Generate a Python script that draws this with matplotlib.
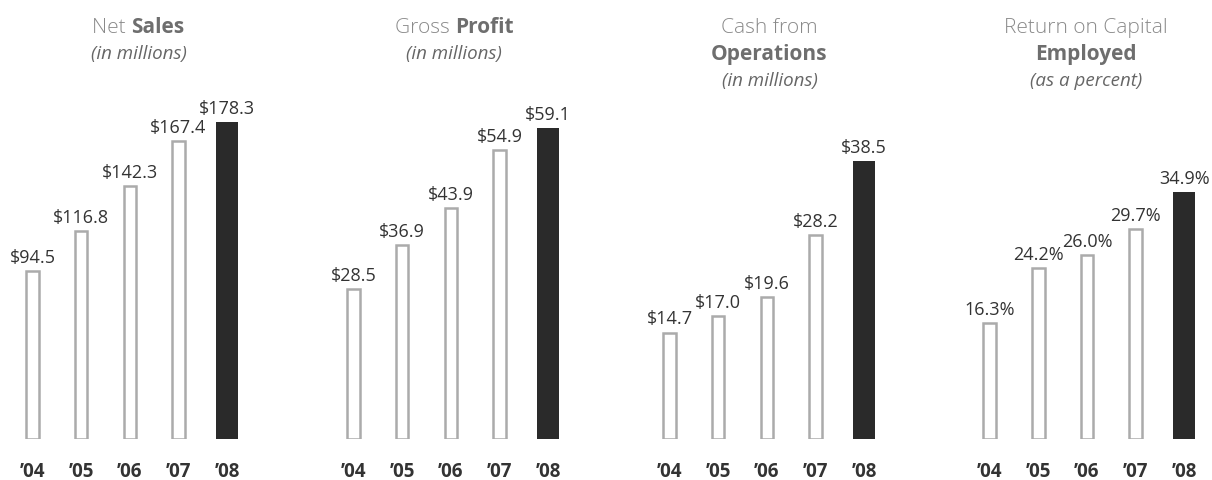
import matplotlib
matplotlib.use("Agg")
import matplotlib.pyplot as plt
from matplotlib import rc

rc('font', **{'family': ['Open Sans', 'DejaVu Sans']})

years = ["\u201904", "\u201905", "\u201906", "\u201907", "\u201908"]

net_sales = [94.5, 116.8, 142.3, 167.4, 178.3]
gross_profit = [28.5, 36.9, 43.9, 54.9, 59.1]
cash_ops = [14.7, 17.0, 19.6, 28.2, 38.5]
roce = [16.3, 24.2, 26.0, 29.7, 34.9]

# (values, label format, title lines [(light, bold)], subtitle)
panels = [
    (net_sales, "${:.1f}", [("Net ", "Sales")], "(in millions)"),
    (gross_profit, "${:.1f}", [("Gross ", "Profit")], "(in millions)"),
    (cash_ops, "${:.1f}", [("Cash from", ""), ("", "Operations")], "(in millions)"),
    (roce, "{:.1f}%", [("Return on Capital", ""), ("", "Employed")], "(as a percent)"),
]

# layout in pixels
W, H = 1212, 480
first_center = [32.5, 353.5, 669.5, 989.6]
title_center = [138.5, 454, 769.5, 1086]
spacing = 48.65
base_y = 438.5
top_px = [122, 128, 161, 192]  # top of the last bar

OUTLINE = "#ababab"
DARK = "#2a2a2a"
TXT = "#333333"
LIGHT = "#8a8a8a"
BOLD = "#6e6e6e"
ITAL = "#666666"

fig = plt.figure(figsize=(W / 100, H / 100), dpi=100)
renderer = fig.canvas.get_renderer()


def mixed_line(xc, yb, light, bold):
    size = 15
    t1 = fig.text(0, 0, light, fontsize=size, color=LIGHT, fontweight='light',
                  va='baseline', ha='left')
    t2 = fig.text(0, 0, bold, fontsize=size, color=BOLD, fontweight='bold',
                  va='baseline', ha='left')
    w1 = t1.get_window_extent(renderer).width if light else 0
    w2 = t2.get_window_extent(renderer).width if bold else 0
    x0 = xc - (w1 + w2) / 2
    t1.set_position((x0 / W, 1 - yb / H))
    t2.set_position(((x0 + w1) / W, 1 - yb / H))


for p, (vals, fmt, lines, sub) in enumerate(panels):
    left = first_center[p] - 0.6 * spacing
    ax = fig.add_axes([left / W, (H - base_y) / H, 5.2 * spacing / W, base_y / H])
    scale = (base_y - top_px[p]) / vals[-1]
    ax.set_xlim(-0.6, 4.6)
    ax.set_ylim(0, base_y / scale)
    ax.axis('off')

    xs = list(range(len(vals)))
    ax.bar(xs[:-1], vals[:-1], width=0.257, facecolor='white', edgecolor=OUTLINE,
           linewidth=1.8)
    ax.bar(xs[-1], vals[-1], width=0.452, color=DARK, linewidth=0)

    for i, v in enumerate(vals):
        ax.annotate(fmt.format(v), (i, v), xytext=(0, 5.8), textcoords='offset points',
                    ha='center', va='baseline', fontsize=13, color=TXT,
                    annotation_clip=False)
        ax.annotate(years[i], (i, 0), xytext=(0, -27.7), textcoords='offset points',
                    ha='center', va='baseline', fontsize=13.5, fontweight='bold',
                    color=TXT, annotation_clip=False)

    yb = 33
    for light, bold in lines:
        mixed_line(title_center[p], yb, light, bold)
        yb += 27
    fig.text(title_center[p] / W, 1 - (yb - 1) / H, sub, fontsize=13.5, style='italic',
             color=ITAL, ha='center', va='baseline')

fig.savefig("out.png", dpi=100)
